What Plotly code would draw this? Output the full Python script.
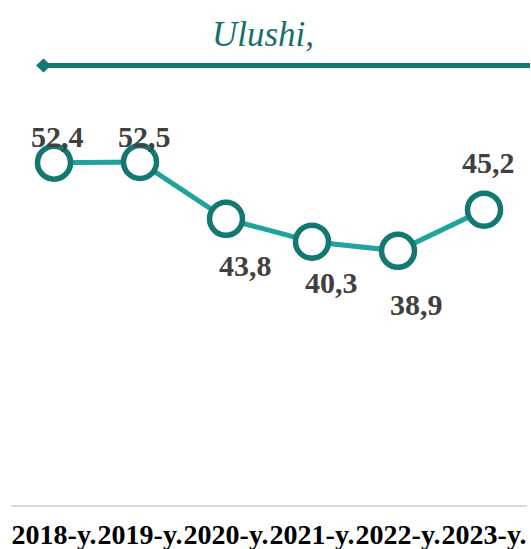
import plotly.graph_objects as go

categories = ["2018-y.", "2019-y.", "2020-y.", "2021-y.", "2022-y.", "2023-y."]
values = [52.4, 52.5, 43.8, 40.3, 38.9, 45.2]
value_labels = ["52,4", "52,5", "43,8", "40,3", "38,9", "45,2"]
title_text = "Ulushi,"

# label offsets in pixels (style)
label_shift = [(3, 26), (4, 26), (19, -47), (19, -41), (18, -54), (4, 47)]

W, H = 531, 549
L, R, T, B = 11, 4, 113, 44
pw = W - L - R
ph = H - T - B

def px_x(p):
    return (p - L) / pw

def px_y(p):
    return (H - B - p) / ph

teal_dark = "#137872"
teal_line = "#1fa39a"
serif = "Liberation Serif, Times New Roman, serif"

fig = go.Figure()
fig.add_trace(go.Scatter(
    x=categories, y=values, mode="lines+markers",
    line=dict(color=teal_line, width=5),
    marker=dict(size=33, color="white", line=dict(color=teal_dark, width=5.5)),
    cliponaxis=False, hoverinfo="skip",
))

for c, v, t, (dx, dy) in zip(categories, values, value_labels, label_shift):
    fig.add_annotation(x=c, y=v, text=t, showarrow=False, xshift=dx, yshift=dy,
                       font=dict(family=serif, size=30, color="#404040", weight="bold"),
                       xanchor="center", yanchor="middle")

fig.add_annotation(xref="paper", yref="paper", x=px_x(263), y=px_y(35), text=title_text,
                   showarrow=False, xanchor="center", yanchor="middle",
                   font=dict(family=serif, size=35, color="#17706b", style="italic"))

yl = px_y(65.5)
fig.add_shape(type="line", xref="paper", yref="paper", x0=px_x(44), x1=px_x(530), y0=yl, y1=yl,
              line=dict(color=teal_dark, width=5))
dxp, dyp = 7.5 / pw, 7 / ph
cx = px_x(43.5)
fig.add_shape(type="path", xref="paper", yref="paper",
              path=f"M {cx-dxp} {yl} L {cx} {yl+dyp} L {cx+dxp} {yl} L {cx} {yl-dyp} Z",
              fillcolor=teal_dark, line=dict(color=teal_dark, width=0))

fig.update_layout(
    width=W, height=H, margin=dict(l=L, r=R, t=T, b=B, autoexpand=False),
    paper_bgcolor="white", plot_bgcolor="white", showlegend=False,
    xaxis=dict(range=[-0.5, 5.5], autorange=False, showgrid=False, showline=True,
               linecolor="#d9d9d9", linewidth=2,
               ticks="", tickangle=0, automargin=False, ticklabelstandoff=3,
               tickfont=dict(family=serif, size=28, color="#000000", weight="bold"),
               zeroline=False, fixedrange=True),
    yaxis=dict(range=[0, 60], autorange=False, visible=False, showgrid=False, zeroline=False,
               fixedrange=True, automargin=False),
)

fig.write_html("out.html", config={"displayModeBar": False},
               post_script="document.body.style.margin='0';document.body.style.overflow='hidden';")
